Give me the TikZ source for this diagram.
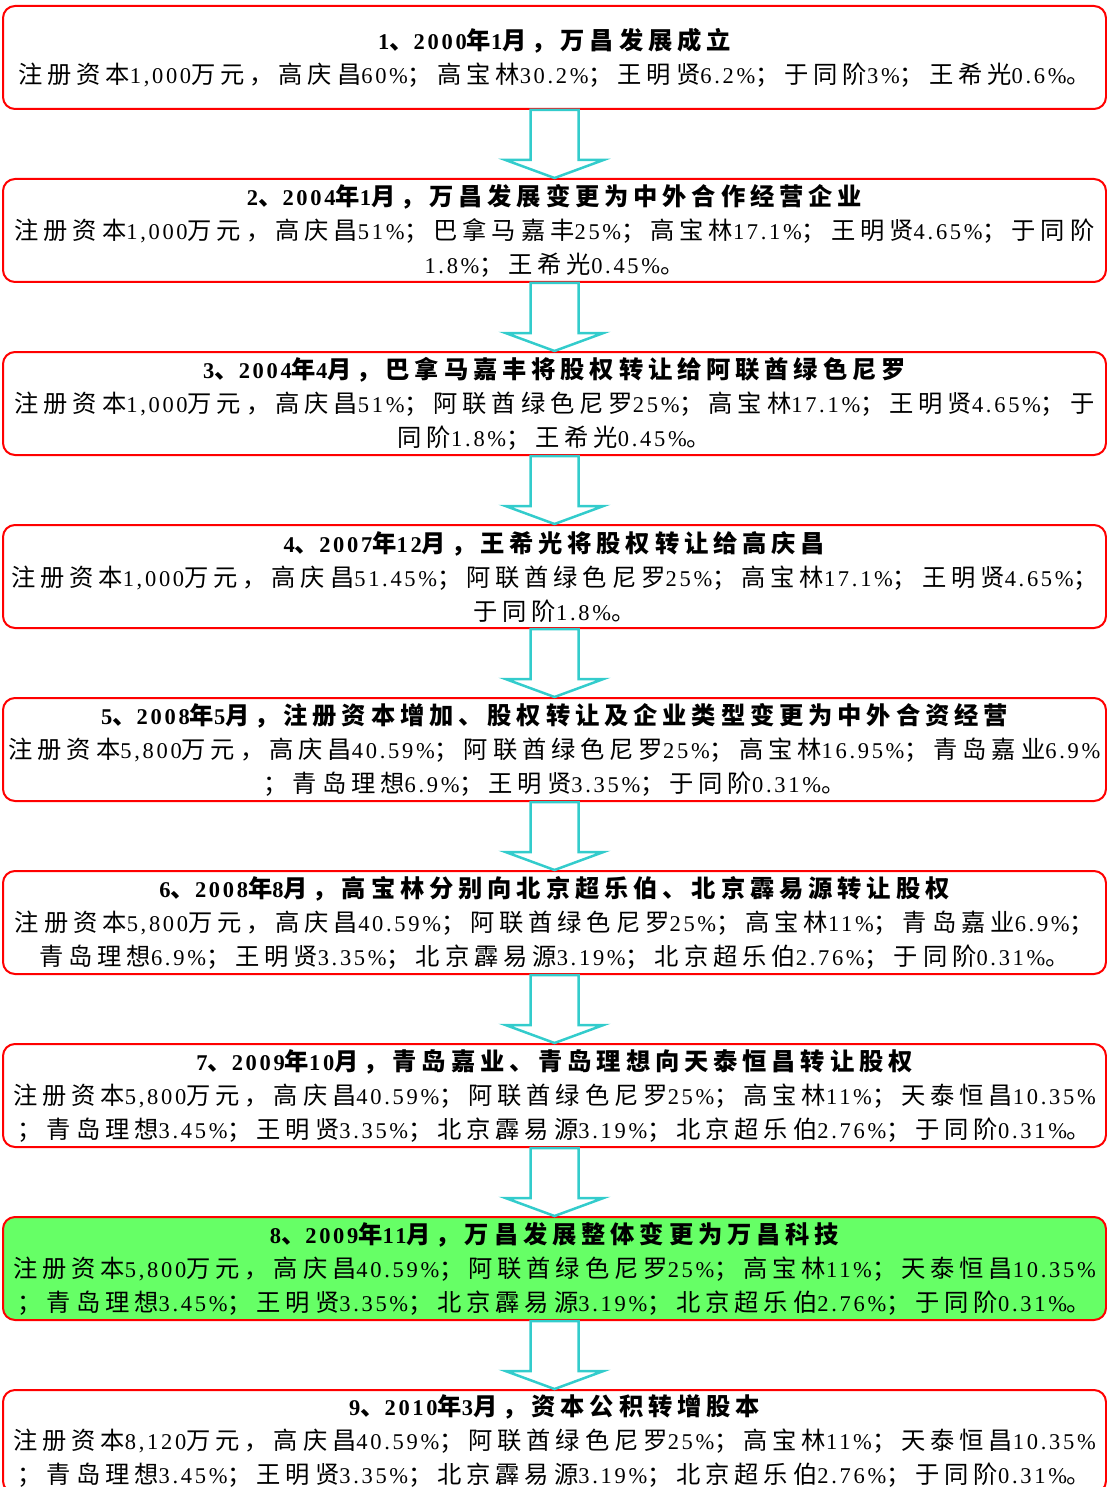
\documentclass[tikz,border=0pt]{standalone}
\usepackage{fontspec}
\usepackage{tikz}
\usetikzlibrary{calc}
\setmainfont{Liberation Serif}[LetterSpace=12]
\newfontfamily\cjk{Noto Sans CJK SC}[Scale=1.08, LetterSpace=20]
% switch to the CJK family for Chinese characters and punctuation
\newXeTeXintercharclass\cjkclass
\count255="4E00 \loop \XeTeXcharclass\count255=\cjkclass \ifnum\count255<"9FFF \advance\count255 1 \repeat
\count255="3000 \loop \XeTeXcharclass\count255=\cjkclass \ifnum\count255<"303F \advance\count255 1 \repeat
\count255="FF00 \loop \XeTeXcharclass\count255=\cjkclass \ifnum\count255<"FFEF \advance\count255 1 \repeat
\XeTeXinterchartoks 0 \cjkclass = {\cjk}
\XeTeXinterchartoks 4095 \cjkclass = {\cjk}
\XeTeXinterchartoks \cjkclass 0 = {\rmfamily}
\XeTeXinterchartokenstate=1
\definecolor{boxred}{RGB}{255,0,0}
\definecolor{arrowcyan}{RGB}{51,204,204}
\definecolor{stepgreen}{RGB}{102,255,102}

\begin{document}
\begin{tikzpicture}[x = 1pt, y = -1pt,
                    stage/.style = {draw = boxred, line width = 2pt, rounded corners = 12pt, fill = white,
                                    minimum width = 1103pt, minimum height = 103pt, inner sep = 0pt,
                                    align = center, font = \fontsize{22.5}{34}\selectfont},
                    hollow/.style = {draw = arrowcyan, line width = 2.5pt, fill = white, line join = miter}]
  \useasboundingbox (0,0) rectangle (1107,1487);
  \node [stage] (S1) at (554.5,57.5) {{\bfseries 1、2000年1月，万昌发展成立}\\
    注册资本1,000万元，高庆昌60\%；高宝林30.2\%；王明贤6.2\%；于同阶3\%；王希光0.6\%。};
  \node [stage] (S2) at (554.5,230.5) {{\bfseries 2、2004年1月，万昌发展变更为中外合作经营企业}\\
    注册资本1,000万元，高庆昌51\%；巴拿马嘉丰25\%；高宝林17.1\%；王明贤4.65\%；于同阶\\
    1.8\%；王希光0.45\%。};
  \node [stage] (S3) at (554.5,403.5) {{\bfseries 3、2004年4月，巴拿马嘉丰将股权转让给阿联酋绿色尼罗}\\
    注册资本1,000万元，高庆昌51\%；阿联酋绿色尼罗25\%；高宝林17.1\%；王明贤4.65\%；于\\
    同阶1.8\%；王希光0.45\%。};
  \node [stage] (S4) at (554.5,576.5) {{\bfseries 4、2007年12月，王希光将股权转让给高庆昌}\\
    注册资本1,000万元，高庆昌51.45\%；阿联酋绿色尼罗25\%；高宝林17.1\%；王明贤4.65\%；\\
    于同阶1.8\%。};
  \node [stage] (S5) at (554.5,749.5) {{\bfseries 5、2008年5月，注册资本增加、股权转让及企业类型变更为中外合资经营}\\
    注册资本5,800万元，高庆昌40.59\%；阿联酋绿色尼罗25\%；高宝林16.95\%；青岛嘉业6.9\%\\
    ；青岛理想6.9\%；王明贤3.35\%；于同阶0.31\%。};
  \node [stage] (S6) at (554.5,922.5) {{\bfseries 6、2008年8月，高宝林分别向北京超乐伯、北京霹易源转让股权}\\
    注册资本5,800万元，高庆昌40.59\%；阿联酋绿色尼罗25\%；高宝林11\%；青岛嘉业6.9\%；\\
    青岛理想6.9\%；王明贤3.35\%；北京霹易源3.19\%；北京超乐伯2.76\%；于同阶0.31\%。};
  \node [stage] (S7) at (554.5,1095.5) {{\bfseries 7、2009年10月，青岛嘉业、青岛理想向天泰恒昌转让股权}\\
    注册资本5,800万元，高庆昌40.59\%；阿联酋绿色尼罗25\%；高宝林11\%；天泰恒昌10.35\%\\
    ；青岛理想3.45\%；王明贤3.35\%；北京霹易源3.19\%；北京超乐伯2.76\%；于同阶0.31\%。};
  \node [stage, fill = stepgreen] (S8) at (554.5,1268.5) {{\bfseries 8、2009年11月，万昌发展整体变更为万昌科技}\\
    注册资本5,800万元，高庆昌40.59\%；阿联酋绿色尼罗25\%；高宝林11\%；天泰恒昌10.35\%\\
    ；青岛理想3.45\%；王明贤3.35\%；北京霹易源3.19\%；北京超乐伯2.76\%；于同阶0.31\%。};
  \node [stage] (S9) at (554.5,1441.5) {{\bfseries 9、2010年3月，资本公积转增股本}\\
    注册资本8,120万元，高庆昌40.59\%；阿联酋绿色尼罗25\%；高宝林11\%；天泰恒昌10.35\%\\
    ；青岛理想3.45\%；王明贤3.35\%；北京霹易源3.19\%；北京超乐伯2.76\%；于同阶0.31\%。};

  \draw [hollow] ($(S1.south)+(-24,0)$) -- ($(S1.south)+(24,0)$) -- ($(S2.north)+(24,-18)$) -- ($(S2.north)+(49,-18)$)
    -- (S2.north) -- ($(S2.north)+(-49,-18)$) -- ($(S2.north)+(-24,-18)$) -- cycle;
  \draw [hollow] ($(S2.south)+(-24,0)$) -- ($(S2.south)+(24,0)$) -- ($(S3.north)+(24,-18)$) -- ($(S3.north)+(49,-18)$)
    -- (S3.north) -- ($(S3.north)+(-49,-18)$) -- ($(S3.north)+(-24,-18)$) -- cycle;
  \draw [hollow] ($(S3.south)+(-24,0)$) -- ($(S3.south)+(24,0)$) -- ($(S4.north)+(24,-18)$) -- ($(S4.north)+(49,-18)$)
    -- (S4.north) -- ($(S4.north)+(-49,-18)$) -- ($(S4.north)+(-24,-18)$) -- cycle;
  \draw [hollow] ($(S4.south)+(-24,0)$) -- ($(S4.south)+(24,0)$) -- ($(S5.north)+(24,-18)$) -- ($(S5.north)+(49,-18)$)
    -- (S5.north) -- ($(S5.north)+(-49,-18)$) -- ($(S5.north)+(-24,-18)$) -- cycle;
  \draw [hollow] ($(S5.south)+(-24,0)$) -- ($(S5.south)+(24,0)$) -- ($(S6.north)+(24,-18)$) -- ($(S6.north)+(49,-18)$)
    -- (S6.north) -- ($(S6.north)+(-49,-18)$) -- ($(S6.north)+(-24,-18)$) -- cycle;
  \draw [hollow] ($(S6.south)+(-24,0)$) -- ($(S6.south)+(24,0)$) -- ($(S7.north)+(24,-18)$) -- ($(S7.north)+(49,-18)$)
    -- (S7.north) -- ($(S7.north)+(-49,-18)$) -- ($(S7.north)+(-24,-18)$) -- cycle;
  \draw [hollow] ($(S7.south)+(-24,0)$) -- ($(S7.south)+(24,0)$) -- ($(S8.north)+(24,-18)$) -- ($(S8.north)+(49,-18)$)
    -- (S8.north) -- ($(S8.north)+(-49,-18)$) -- ($(S8.north)+(-24,-18)$) -- cycle;
  \draw [hollow] ($(S8.south)+(-24,0)$) -- ($(S8.south)+(24,0)$) -- ($(S9.north)+(24,-18)$) -- ($(S9.north)+(49,-18)$)
    -- (S9.north) -- ($(S9.north)+(-49,-18)$) -- ($(S9.north)+(-24,-18)$) -- cycle;
\end{tikzpicture}
\end{document}
